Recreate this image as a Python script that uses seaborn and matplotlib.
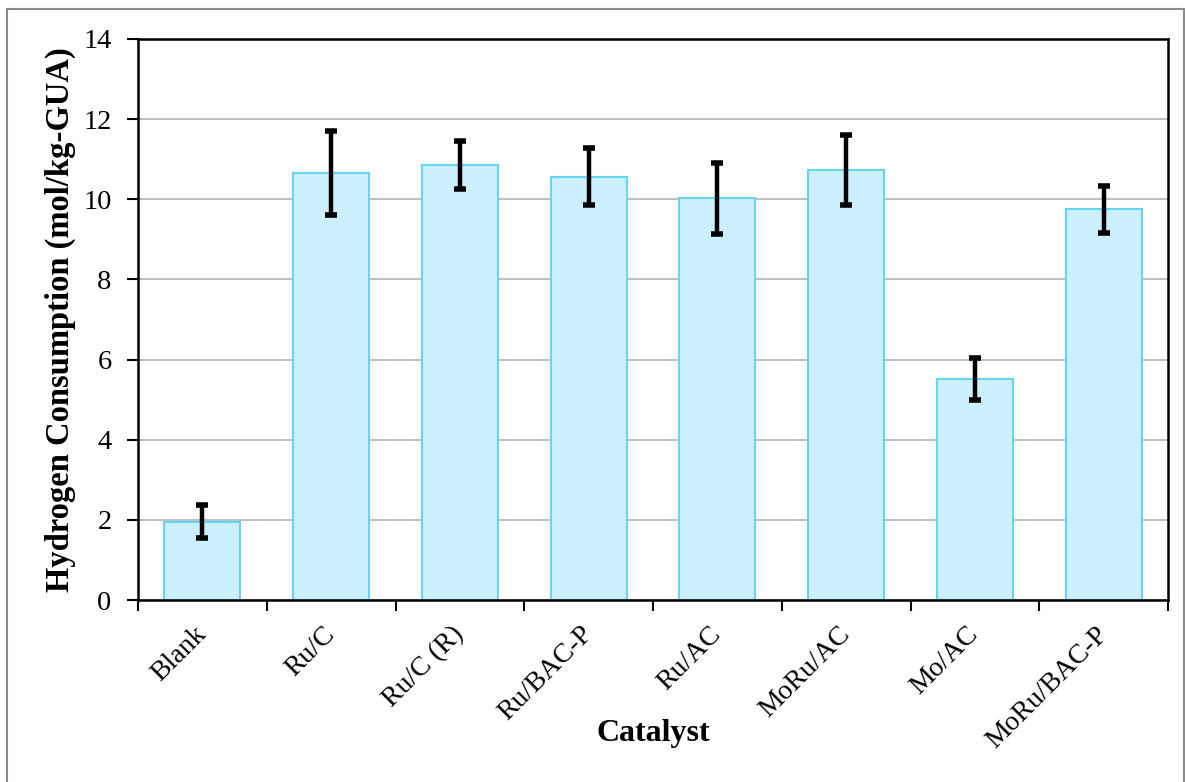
import matplotlib
matplotlib.use("Agg")
import matplotlib.pyplot as plt
import matplotlib.patches as mpatches
import numpy as np
import pandas as pd
import seaborn as sns

catalysts = ["Blank", "Ru/C", "Ru/C (R)", "Ru/BAC-P", "Ru/AC", "MoRu/AC", "Mo/AC", "MoRu/BAC-P"]
consumption = [1.95, 10.65, 10.85, 10.56, 10.02, 10.73, 5.52, 9.75]
error = [0.41, 1.05, 0.60, 0.71, 0.88, 0.87, 0.53, 0.58]
y_ticks = [0, 2, 4, 6, 8, 10, 12, 14]

sns.set_theme(style="white")
plt.rcParams["font.family"] = ["Liberation Serif", "DejaVu Serif"]
plt.rcParams["text.color"] = "black"
plt.rcParams["axes.labelcolor"] = "black"
plt.rcParams["xtick.color"] = "black"
plt.rcParams["ytick.color"] = "black"

df = pd.DataFrame({"Catalyst": catalysts, "H2": consumption})

fig = plt.figure(figsize=(11.86, 7.82), dpi=100)
ax = fig.add_axes([138 / 1186, 1 - 600 / 782, 1030 / 1186, 561 / 782])

sns.barplot(data=df, x="Catalyst", y="H2", ax=ax, color="#CCF0FD",
            edgecolor="#66D4F7", linewidth=1.5, width=0.59, errorbar=None,
            saturation=1)

pos = np.arange(len(catalysts))
ax.errorbar(pos, consumption, yerr=error, fmt="none", ecolor="black",
            elinewidth=3.2, capsize=4.5, capthick=4, zorder=5)

ax.set_ylim(0, 14)
ax.set_xlim(-0.5, len(catalysts) - 0.5)
ax.set_yticks(y_ticks)
ax.set_yticklabels([str(t) for t in y_ticks], fontsize=20.5)
ax.yaxis.grid(True, color="#C0C0C0", linewidth=1.5)
ax.set_axisbelow(True)

# category labels on the centres, tick marks on the boundaries
ax.set_xticks(pos)
ax.set_xticklabels(catalysts, fontsize=20, rotation=45, ha="right",
                   rotation_mode="anchor", va="center")
ax.tick_params(axis="x", which="major", length=0, pad=22)
ax.set_xticks(np.arange(len(catalysts) + 1) - 0.5, minor=True)
ax.tick_params(axis="x", which="minor", length=8, width=1.5, direction="out",
               color="black", bottom=True)
ax.tick_params(axis="y", length=8, width=1.5, direction="out", color="black",
               left=True, pad=11)

for s in ax.spines.values():
    s.set_visible(True)
    s.set_color("black")
    s.set_linewidth(1.8)

ax.set_xlabel("Catalyst", fontsize=23, fontweight="bold")
ax.xaxis.set_label_coords(0.5, -0.212)
ax.set_ylabel("Hydrogen Consumption (mol/kg-GUA)", fontsize=23.5,
              fontweight="bold", labelpad=5)

# outer chart frame
frame = mpatches.Rectangle((7 / 1186, -0.05), 1177 / 1186, 1.05 - 9 / 782,
                           transform=fig.transFigure, fill=False,
                           edgecolor="#8C8C8C", linewidth=1.5)
fig.patches.append(frame)

fig.savefig("out.png", dpi=100)
